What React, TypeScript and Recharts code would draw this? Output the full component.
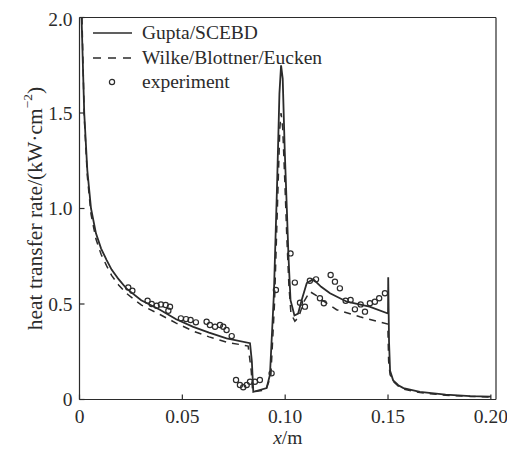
import React from "react"
import {
  ComposedChart,
  Line,
  Scatter,
  XAxis,
  YAxis,
  ReferenceLine,
  Legend,
} from "recharts"

// Gupta/SCEBD (solid), x in m, heat transfer rate in kW/cm^2
const guptaCurve: [number, number][] = [
  [0.001, 2.0], [0.0023, 1.5], [0.0038, 1.2], [0.0056, 1.0], [0.008, 0.87],
  [0.0105, 0.79], [0.0132, 0.73], [0.0156, 0.68], [0.019, 0.63], [0.0229, 0.58],
  [0.03, 0.52], [0.0391, 0.47], [0.047, 0.42], [0.0553, 0.38], [0.063, 0.35],
  [0.0715, 0.32], [0.0829, 0.295], [0.0838, 0.2], [0.0845, 0.04], [0.091, 0.06],
  [0.0926, 0.13], [0.0945, 0.55], [0.096, 1.1], [0.0972, 1.6], [0.098, 1.75],
  [0.0988, 1.68], [0.0998, 1.3], [0.1008, 1.0], [0.1016, 0.75], [0.1026, 0.52],
  [0.1045, 0.44], [0.1063, 0.45], [0.108, 0.52], [0.1105, 0.61], [0.1136, 0.63],
  [0.1175, 0.59], [0.1218, 0.556], [0.13, 0.512], [0.141, 0.486], [0.15, 0.45],
  [0.1501, 0.64], [0.1505, 0.3], [0.151, 0.15], [0.1525, 0.1], [0.155, 0.075],
  [0.1575, 0.06], [0.1655, 0.04], [0.178, 0.025], [0.19, 0.018], [0.2, 0.015],
]

// Wilke/Blottner/Eucken (dashed)
const wilkeCurve: [number, number][] = [
  [0.0012, 2.0], [0.0023, 1.48], [0.0038, 1.17], [0.0056, 0.97], [0.008, 0.84],
  [0.0105, 0.76], [0.0132, 0.7], [0.0156, 0.65], [0.019, 0.6], [0.0229, 0.555],
  [0.03, 0.495], [0.0391, 0.445], [0.047, 0.4], [0.0553, 0.358], [0.063, 0.328],
  [0.0715, 0.3], [0.082, 0.28], [0.0835, 0.15], [0.0842, 0.04], [0.0905, 0.05],
  [0.093, 0.12], [0.0948, 0.5], [0.0962, 1.0], [0.0974, 1.42], [0.098, 1.5],
  [0.0988, 1.42], [0.0998, 1.15], [0.1008, 0.85], [0.1018, 0.6], [0.1028, 0.45],
  [0.1047, 0.41], [0.1065, 0.43], [0.109, 0.51], [0.112, 0.565], [0.115, 0.545],
  [0.118, 0.52], [0.125, 0.47], [0.1363, 0.433], [0.1499, 0.395], [0.1503, 0.2],
  [0.151, 0.13], [0.1525, 0.095], [0.155, 0.07], [0.1575, 0.055], [0.1655, 0.036],
  [0.178, 0.022], [0.19, 0.016], [0.2, 0.013],
]

// experiment (open circles)
const experiment: [number, number][] = [
  [0.0237, 0.587], [0.0257, 0.569], [0.0331, 0.517], [0.0351, 0.5], [0.0375, 0.491],
  [0.0396, 0.498], [0.0419, 0.495], [0.044, 0.486], [0.0432, 0.465], [0.0493, 0.425],
  [0.0518, 0.421], [0.054, 0.416], [0.0566, 0.404], [0.0618, 0.407], [0.0634, 0.39],
  [0.0659, 0.381], [0.0683, 0.39], [0.0699, 0.381], [0.0715, 0.364], [0.074, 0.332],
  [0.0761, 0.102], [0.078, 0.076], [0.0796, 0.064], [0.0813, 0.076], [0.0829, 0.093],
  [0.0853, 0.093], [0.0877, 0.102], [0.0934, 0.137], [0.0955, 0.573], [0.1026, 0.765],
  [0.1047, 0.612], [0.1072, 0.507], [0.1096, 0.486], [0.112, 0.622], [0.115, 0.629],
  [0.1169, 0.53], [0.1188, 0.504], [0.1221, 0.652], [0.1242, 0.617], [0.1266, 0.582],
  [0.1294, 0.517], [0.1318, 0.521], [0.1339, 0.472], [0.1367, 0.498], [0.1388, 0.46],
  [0.1412, 0.504], [0.1436, 0.512], [0.1457, 0.53], [0.1485, 0.556],
]

const xTicks = [0, 0.05, 0.1, 0.15, 0.2]
const yTicks = [0, 0.5, 1.0, 1.5, 2.0]

const toPoints = (arr: [number, number][]) => arr.map(([x, y]) => ({ x, y }))

const ink = "#2b2b2b"
const font = "Liberation Serif, Times New Roman, Times, DejaVu Serif, Noto Serif, serif"

const OpenCircle = (props: any) => (
  <circle cx={props.cx} cy={props.cy} r={2.6} fill="none" stroke={ink} strokeWidth={1.2} />
)

const legendRows = [
  { name: "Gupta/SCEBD", kind: "solid" },
  { name: "Wilke/Blottner/Eucken", kind: "dashed" },
  { name: "experiment", kind: "circle" },
]

const LegendBox = () => (
  <div style={{ fontFamily: font, fontSize: 19.5, color: ink, lineHeight: "24.5px" }}>
    {legendRows.map((r) => (
      <div key={r.name} style={{ display: "flex", alignItems: "center", height: 24.5 }}>
        <svg width={49} height={12}>
          {r.kind === "circle" ? (
            <circle cx={19} cy={6} r={2.6} fill="none" stroke={ink} strokeWidth={1.2} />
          ) : (
            <line
              x1={0}
              x2={39}
              y1={6}
              y2={6}
              stroke={ink}
              strokeWidth={1.7}
              strokeDasharray={r.kind === "dashed" ? "8 7" : undefined}
            />
          )}
        </svg>
        <span>{r.name}</span>
      </div>
    ))}
  </div>
)

export default function App() {
  return (
    <div style={{ fontFamily: font }}>
      <ComposedChart
        width={507}
        height={442}
        margin={{ top: 9.5, right: 19, bottom: 0, left: 0 }}
      >
        <XAxis
          type="number"
          dataKey="x"
          domain={[0, 0.2025]}
          ticks={xTicks}
          tickFormatter={(v: number) => (v === 0 ? "0" : v.toFixed(2))}
          tick={{ fill: ink, fontSize: 19.5, fontFamily: font }}
          tickSize={-5}
          tickMargin={15}
          height={50.5}
          stroke={ink}
          strokeWidth={1.2}
          label={{
            content: (p: any) => {
              const vb = p.viewBox
              return (
                <text
                  x={vb.x + vb.width / 2}
                  y={vb.y + 44.5}
                  textAnchor="middle"
                  fontSize={19.5}
                  fontFamily={font}
                  fill={ink}
                >
                  <tspan fontStyle="italic">x</tspan>/m
                </text>
              )
            },
          }}
        />
        <YAxis
          type="number"
          dataKey="y"
          domain={[0, 2]}
          ticks={yTicks}
          tickFormatter={(v: number) => (v === 0 ? "0" : v.toFixed(1))}
          tick={{ fill: ink, fontSize: 19.5, fontFamily: font }}
          tickSize={-5}
          tickMargin={12}
          width={71.5}
          stroke={ink}
          strokeWidth={1.2}
          label={{
            content: (p: any) => {
              const vb = p.viewBox
              const cx = 27
              const cy = vb.y + vb.height / 2
              return (
                <text
                  x={cx}
                  y={cy}
                  transform={`rotate(-90 ${cx} ${cy})`}
                  textAnchor="middle"
                  dominantBaseline="central"
                  fontSize={21.5}
                  fontFamily={font}
                  fill={ink}
                >
                  heat transfer rate/(kW·cm
                  <tspan dy={-8} fontSize={13.5}>−2</tspan>
                  <tspan dy={8}>)</tspan>
                </text>
              )
            },
          }}
        />
        <ReferenceLine y={2} stroke={ink} strokeWidth={1.2} />
        <ReferenceLine x={0.2025} stroke={ink} strokeWidth={1.2} />
        <Line
          data={toPoints(wilkeCurve)}
          dataKey="y"
          type="linear"
          stroke={ink}
          strokeWidth={1.5}
          strokeDasharray="7 6"
          dot={false}
          isAnimationActive={false}
        />
        <Line
          data={toPoints(guptaCurve)}
          dataKey="y"
          type="linear"
          stroke={ink}
          strokeWidth={1.8}
          dot={false}
          isAnimationActive={false}
        />
        <Scatter
          data={toPoints(experiment)}
          dataKey="y"
          shape={OpenCircle}
          isAnimationActive={false}
        />
        <Legend
          layout="vertical"
          align="center"
          verticalAlign="middle"
          content={() => <LegendBox />}
          wrapperStyle={{ top: 13, left: 85, width: "auto" }}
        />
      </ComposedChart>
    </div>
  )
}
